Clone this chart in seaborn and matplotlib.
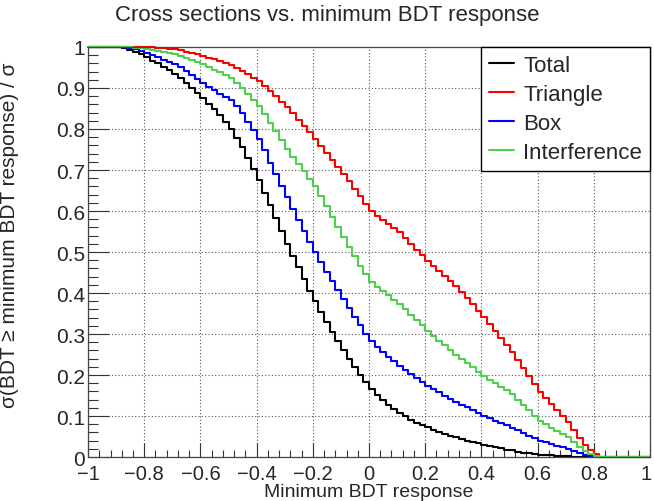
import numpy as np
import pandas as pd
import matplotlib
matplotlib.use("Agg")
import matplotlib.pyplot as plt
import matplotlib.transforms as mtransforms
import seaborn as sns
from matplotlib.ticker import MultipleLocator, FuncFormatter

# bin edges of the BDT response histogram (100 bins from -1 to 1)
bin_edges = np.linspace(-1.0, 1.0, 101)

# fraction of cross section with BDT >= minimum BDT response (one value per bin)
total = [1, 1, 1, 1, 1,
         0.999, 0.997, 0.993, 0.988, 0.982,
         0.975, 0.967, 0.960, 0.952, 0.944,
         0.935, 0.924, 0.912, 0.900, 0.888,
         0.875, 0.862, 0.848, 0.833, 0.817,
         0.800, 0.778, 0.755, 0.730, 0.703,
         0.675, 0.645, 0.614, 0.583, 0.551,
         0.520, 0.491, 0.463, 0.434, 0.406,
         0.380, 0.354, 0.329, 0.305, 0.282,
         0.260, 0.239, 0.219, 0.200, 0.182,
         0.165, 0.151, 0.138, 0.127, 0.117,
         0.108, 0.099, 0.091, 0.084, 0.078,
         0.073, 0.067, 0.062, 0.057, 0.052,
         0.048, 0.044, 0.040, 0.037, 0.033,
         0.030, 0.027, 0.024, 0.021, 0.018,
         0.016, 0.013, 0.011, 0.009, 0.007,
         0.006, 0.005, 0.004, 0.003, 0.002,
         0.002, 0.001, 0.001, 0.001, 0.0,
         0, 0, 0, 0, 0, 0, 0, 0, 0, 0]

triangle = [1, 1, 1, 1, 1,
            1, 1, 1, 1, 1,
            1.0, 0.999, 0.998, 0.997, 0.996,
            0.995, 0.992, 0.988, 0.985, 0.982,
            0.978, 0.974, 0.970, 0.965, 0.961,
            0.956, 0.949, 0.941, 0.933, 0.925,
            0.917, 0.906, 0.893, 0.880, 0.867,
            0.853, 0.838, 0.823, 0.807, 0.792,
            0.776, 0.759, 0.742, 0.725, 0.708,
            0.690, 0.672, 0.654, 0.636, 0.618,
            0.600, 0.589, 0.579, 0.569, 0.558,
            0.548, 0.534, 0.520, 0.506, 0.492,
            0.478, 0.466, 0.454, 0.442, 0.430,
            0.418, 0.403, 0.388, 0.372, 0.357,
            0.341, 0.324, 0.307, 0.290, 0.273,
            0.256, 0.236, 0.217, 0.197, 0.178,
            0.158, 0.144, 0.129, 0.114, 0.100,
            0.085, 0.066, 0.047, 0.030, 0.018,
            0.008, 0, 0, 0, 0, 0, 0, 0, 0, 0]

box = [1, 1, 1, 1, 1,
       1.0, 0.999, 0.997, 0.994, 0.990,
       0.985, 0.980, 0.975, 0.969, 0.964,
       0.958, 0.950, 0.941, 0.931, 0.922,
       0.912, 0.903, 0.894, 0.885, 0.878,
       0.870, 0.856, 0.838, 0.818, 0.798,
       0.775, 0.748, 0.718, 0.690, 0.661,
       0.633, 0.605, 0.578, 0.551, 0.525,
       0.500, 0.476, 0.452, 0.429, 0.407,
       0.385, 0.363, 0.342, 0.321, 0.301,
       0.282, 0.268, 0.256, 0.244, 0.233,
       0.222, 0.212, 0.202, 0.193, 0.183,
       0.174, 0.166, 0.158, 0.150, 0.142,
       0.135, 0.128, 0.121, 0.114, 0.107,
       0.100, 0.094, 0.088, 0.083, 0.078,
       0.072, 0.065, 0.058, 0.052, 0.046,
       0.040, 0.036, 0.032, 0.028, 0.024,
       0.020, 0.015, 0.010, 0.005, 0.002,
       0, 0, 0, 0, 0, 0, 0, 0, 0, 0]

interference = [1, 1, 1, 1, 1,
                1.0, 1.0, 0.999, 0.998, 0.997,
                0.995, 0.993, 0.990, 0.988, 0.985,
                0.982, 0.978, 0.973, 0.968, 0.963,
                0.958, 0.952, 0.945, 0.939, 0.932,
                0.925, 0.913, 0.899, 0.885, 0.870,
                0.855, 0.836, 0.815, 0.794, 0.772,
                0.750, 0.732, 0.715, 0.697, 0.679,
                0.660, 0.636, 0.611, 0.586, 0.561,
                0.536, 0.513, 0.490, 0.467, 0.446,
                0.426, 0.415, 0.404, 0.394, 0.384,
                0.373, 0.360, 0.347, 0.334, 0.321,
                0.308, 0.296, 0.284, 0.272, 0.261,
                0.250, 0.240, 0.229, 0.219, 0.208,
                0.198, 0.189, 0.180, 0.171, 0.163,
                0.154, 0.140, 0.127, 0.114, 0.101,
                0.088, 0.080, 0.072, 0.064, 0.056,
                0.048, 0.036, 0.024, 0.015, 0.008,
                0.002, 0, 0, 0, 0, 0, 0, 0, 0, 0]

samples = ["Total", "Triangle", "Box", "Interference"]
colors = ["#000000", "#ff0000", "#0000ff", "#4fcf4f"]

# long table for seaborn, last value repeated so the final step reaches x=1
rows = []
for name, vals in zip(samples, [total, triangle, box, interference]):
    ys = list(vals) + [vals[-1]]
    for x, y in zip(bin_edges, ys):
        rows.append({"edge": x, "frac": y, "sample": name})
df = pd.DataFrame(rows)


def root_fmt(v, pos):
    v = round(v, 6)
    if abs(v) < 1e-9:
        return "0"
    return ("%g" % v).replace("-", "\u2212")


sns.set_style("ticks")
plt.rcParams["font.family"] = ["Liberation Sans", "DejaVu Sans"]

fig = plt.figure(figsize=(6.54, 5.02), dpi=100)
ax = fig.add_axes([0.1346, 0.0876, 0.8593, 0.8168])

sns.lineplot(data=df, x="edge", y="frac", hue="sample", hue_order=samples,
             palette=colors, drawstyle="steps-post", estimator=None, sort=False,
             linewidth=1.5, ax=ax)
for line in ax.get_lines():
    line.set_clip_on(False)

ax.set_xlim(-1, 1)
ax.set_ylim(0, 1)
ax.xaxis.set_major_locator(MultipleLocator(0.2))
ax.xaxis.set_minor_locator(MultipleLocator(0.04))
ax.yaxis.set_major_locator(MultipleLocator(0.1))
ax.yaxis.set_minor_locator(MultipleLocator(0.02))
ax.xaxis.set_major_formatter(FuncFormatter(root_fmt))
ax.yaxis.set_major_formatter(FuncFormatter(root_fmt))
ax.tick_params(which="both", direction="in", labelsize=14.5, width=0.8,
               color="#333333", top=False, right=False)
ax.tick_params(which="major", length=10)
ax.tick_params(which="minor", length=5)
ax.tick_params(axis="y", which="major", length=15, pad=2, labelsize=15)
ax.tick_params(axis="y", which="minor", length=7)
ax.tick_params(axis="x", pad=5)

ax.grid(True, which="major", linestyle=(0, (1, 2)), color="#555555", linewidth=0.8)
for sp in ax.spines.values():
    sp.set_linewidth(0.9)
    sp.set_color("#444444")

# keep the "1" label at the right end on the canvas
fig.canvas.draw()
shift = mtransforms.ScaledTranslation(-4 / 100, 0, fig.dpi_scale_trans)
for tick in ax.xaxis.get_major_ticks():
    if abs(tick.get_loc() - 1.0) < 1e-6:
        tick.label1.set_transform(tick.label1.get_transform() + shift)

fig.text(0.5, 1 - 16 / 502, "Cross sections vs. minimum BDT response",
         fontsize=16, ha="center", va="center")
ax.set_xlabel("Minimum BDT response", fontsize=14)
ax.xaxis.label.set_verticalalignment("bottom")
ax.xaxis.set_label_coords(0.5, -0.106)
ax.set_ylabel("σ(BDT ≥ minimum BDT response) / σ", fontsize=15, loc="top")
ax.yaxis.set_label_coords(-0.122, 0.965)

ax.legend(loc="upper right", fontsize=16, frameon=True, fancybox=False,
          edgecolor="black", framealpha=1, borderaxespad=0, handlelength=1.15,
          handletextpad=0.4, labelspacing=0.36, borderpad=0.35)
ax.get_legend().get_frame().set_linewidth(1.0)

fig.savefig("out.png", dpi=100)
